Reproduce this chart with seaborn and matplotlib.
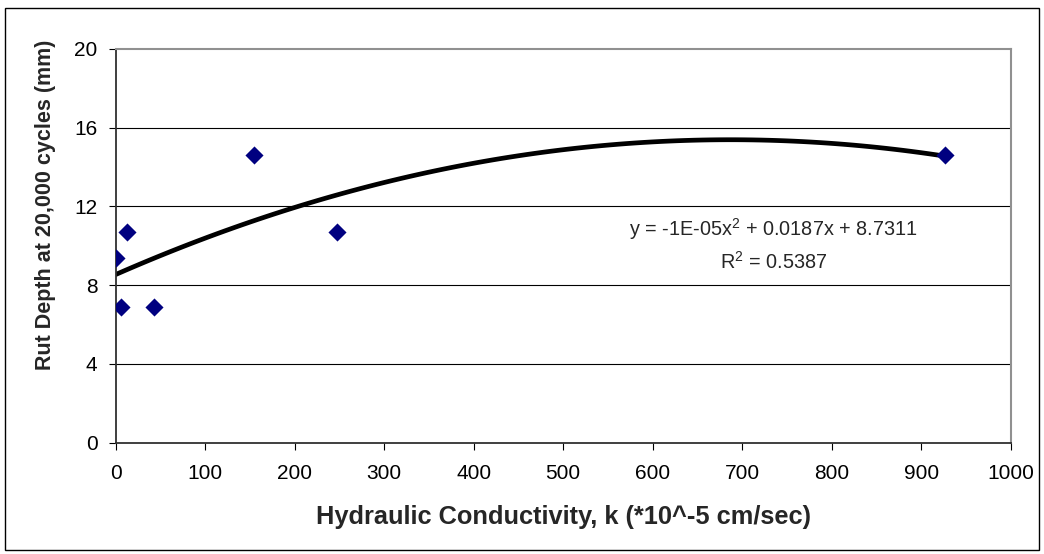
#Rut depth vs hydraulic conductivity, Excel style scatter with 2nd order trendline
import numpy as np
import pandas as pd
import matplotlib
matplotlib.use('Agg')
import matplotlib.pyplot as plt
from matplotlib.patches import Rectangle
import seaborn as sns

sns.set_style('white')
plt.rcParams['font.family'] = ['Liberation Sans', 'DejaVu Sans']
plt.rcParams['mathtext.fontset'] = 'custom'
plt.rcParams['mathtext.rm'] = 'Liberation Sans'
plt.rcParams['mathtext.it'] = 'Liberation Sans'

#values
conductivity = [0.3, 6, 13, 43, 155, 247, 927]
rutDepth = [9.4, 6.9, 10.7, 6.9, 14.6, 10.7, 14.6]
xTicks = list(range(0, 1001, 100))
yTicks = [0, 4, 8, 12, 16, 20]
eqnText = r'y = -1E-05x$^{2}$ + 0.0187x + 8.7311'
r2Text = r'R$^{2}$ = 0.5387'

rutDF = pd.DataFrame({'k': conductivity, 'rut': rutDepth})

fig = plt.figure(figsize=(10.44, 5.54), dpi=100)
ax = fig.add_axes([0.1108, 0.2009, 0.968 - 0.1108, 0.9116 - 0.2009])

#horizontal gridlines like excel
for yv in yTicks[1:-1]:
    ax.axhline(yv, color='black', linewidth=0.8, zorder=0)

#polynomial trendline (order 2) over the data range
sns.regplot(x='k', y='rut', data=rutDF, order=2, ci=None, scatter=False,
            line_kws={'color': 'black', 'linewidth': 3.4}, ax=ax)

#diamond markers
sns.scatterplot(x='k', y='rut', data=rutDF, marker='D', color='#000080',
                s=85, edgecolor='#000080', linewidth=0, zorder=5, ax=ax)

ax.text(735, 10.85, eqnText, ha='center', va='center', fontsize=14.3)
ax.text(735, 9.2, r2Text, ha='center', va='center', fontsize=14.3)

ax.set_xlim(0, 1000)
ax.set_ylim(0, 20)
ax.set_xticks(xTicks)
ax.set_yticks(yTicks)
ax.tick_params(axis='both', direction='out', length=5, width=0.8, colors='black',
               labelsize=15, left=True, bottom=True)
ax.tick_params(axis='y', pad=8)
ax.tick_params(axis='x', pad=10)

for side in ['left', 'bottom']:
    ax.spines[side].set_color('#303030')
    ax.spines[side].set_linewidth(1.3)
for side in ['top', 'right']:
    ax.spines[side].set_color('#909090')
    ax.spines[side].set_linewidth(1.5)

ax.set_xlabel('Hydraulic Conductivity, k (*10^-5 cm/sec)', fontsize=18.3,
              fontweight='bold', va='center')
ax.set_ylabel('Rut Depth at 20,000 cycles (mm)', fontsize=15.5, fontweight='bold',
              va='center')
ax.xaxis.set_label_coords(0.5, -0.189)
ax.yaxis.set_label_coords(-0.078, 0.605)

#border round the whole chart
fig.patches.append(Rectangle((0.005, 0.008), 0.99, 0.978, transform=fig.transFigure,
                             fill=False, edgecolor='black', linewidth=1.0))

fig.savefig('out.png', dpi=100)
